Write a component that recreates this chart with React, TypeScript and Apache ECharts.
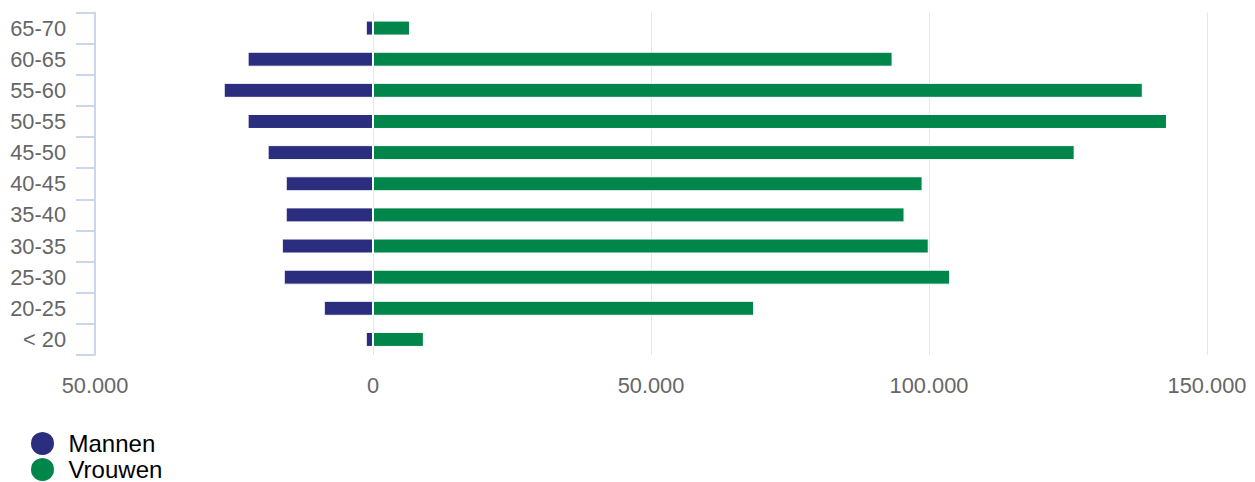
import React, { useEffect, useRef } from "react";
import * as echarts from "echarts";

const categories = ["< 20", "20-25", "25-30", "30-35", "35-40", "40-45", "45-50", "50-55", "55-60", "60-65", "65-70"];
const seriesNames = ["Mannen", "Vrouwen"];
const mannen = [-1300, -8850, -16050, -16400, -15700, -15700, -18950, -22550, -26850, -22550, -1300];
const vrouwen = [9150, 68550, 103800, 99950, 95600, 98850, 126200, 142800, 138450, 93450, 6650];
const xTicks = { min: -50000, max: 150000, interval: 50000 };

const fmt = (v: number) => {
  const a = Math.abs(Math.round(v));
  return a.toString().replace(/\B(?=(\d{3})+(?!\d))/g, ".");
};

export default function App() {
  const ref = useRef<HTMLDivElement>(null);
  useEffect(() => {
    if (!ref.current) return;
    const chart = echarts.init(ref.current, undefined, { renderer: "svg" });
    const font = "'Liberation Sans', Arial, sans-serif";
    const legendBase = {
      orient: "vertical",
      left: 29,
      padding: 0,
      itemWidth: 42,
      itemHeight: 25,
      icon: "circle",
      textStyle: { fontFamily: font, fontSize: 24, color: "#000" },
    };
    chart.setOption({
      animation: false,
      grid: { left: 95, right: 48, top: 12.5, height: 342.5, containLabel: false },
      legend: [
        { ...legendBase, top: 430, data: [seriesNames[0]] },
        { ...legendBase, top: 456, data: [seriesNames[1]] },
      ],
      xAxis: {
        type: "value",
        min: xTicks.min,
        max: xTicks.max,
        interval: xTicks.interval,
        axisLine: { show: false },
        axisTick: { show: false },
        splitLine: { lineStyle: { color: "#e6e6e6", width: 1 } },
        axisLabel: {
          margin: 19,
          color: "#666666",
          fontFamily: font,
          fontSize: 21.8,
          formatter: (v: number) => fmt(v),
        },
      },
      yAxis: {
        type: "category",
        data: categories,
        axisLine: { onZero: false, lineStyle: { color: "#ccd6eb", width: 2 } },
        axisTick: { show: true, length: 19, lineStyle: { color: "#ccd6eb", width: 2 } },
        axisLabel: {
          margin: 29,
          color: "#666666",
          fontFamily: font,
          fontSize: 21.8,
          padding: [3, 0, 0, 0],
        },
      },
      series: [
        {
          name: seriesNames[0],
          type: "bar",
          stack: "total",
          data: mannen,
          barWidth: 15,
          itemStyle: { color: "#2b2e7f", borderColor: "#ffffff", borderWidth: 1 },
        },
        {
          name: seriesNames[1],
          type: "bar",
          stack: "total",
          data: vrouwen,
          barWidth: 15,
          itemStyle: { color: "#00864a", borderColor: "#ffffff", borderWidth: 1 },
        },
      ],
    });
    return () => chart.dispose();
  }, []);
  return (
    <div
      ref={ref}
      style={{ position: "fixed", left: 0, top: 0, width: 1255, height: 482, background: "#fff" }}
    />
  );
}
